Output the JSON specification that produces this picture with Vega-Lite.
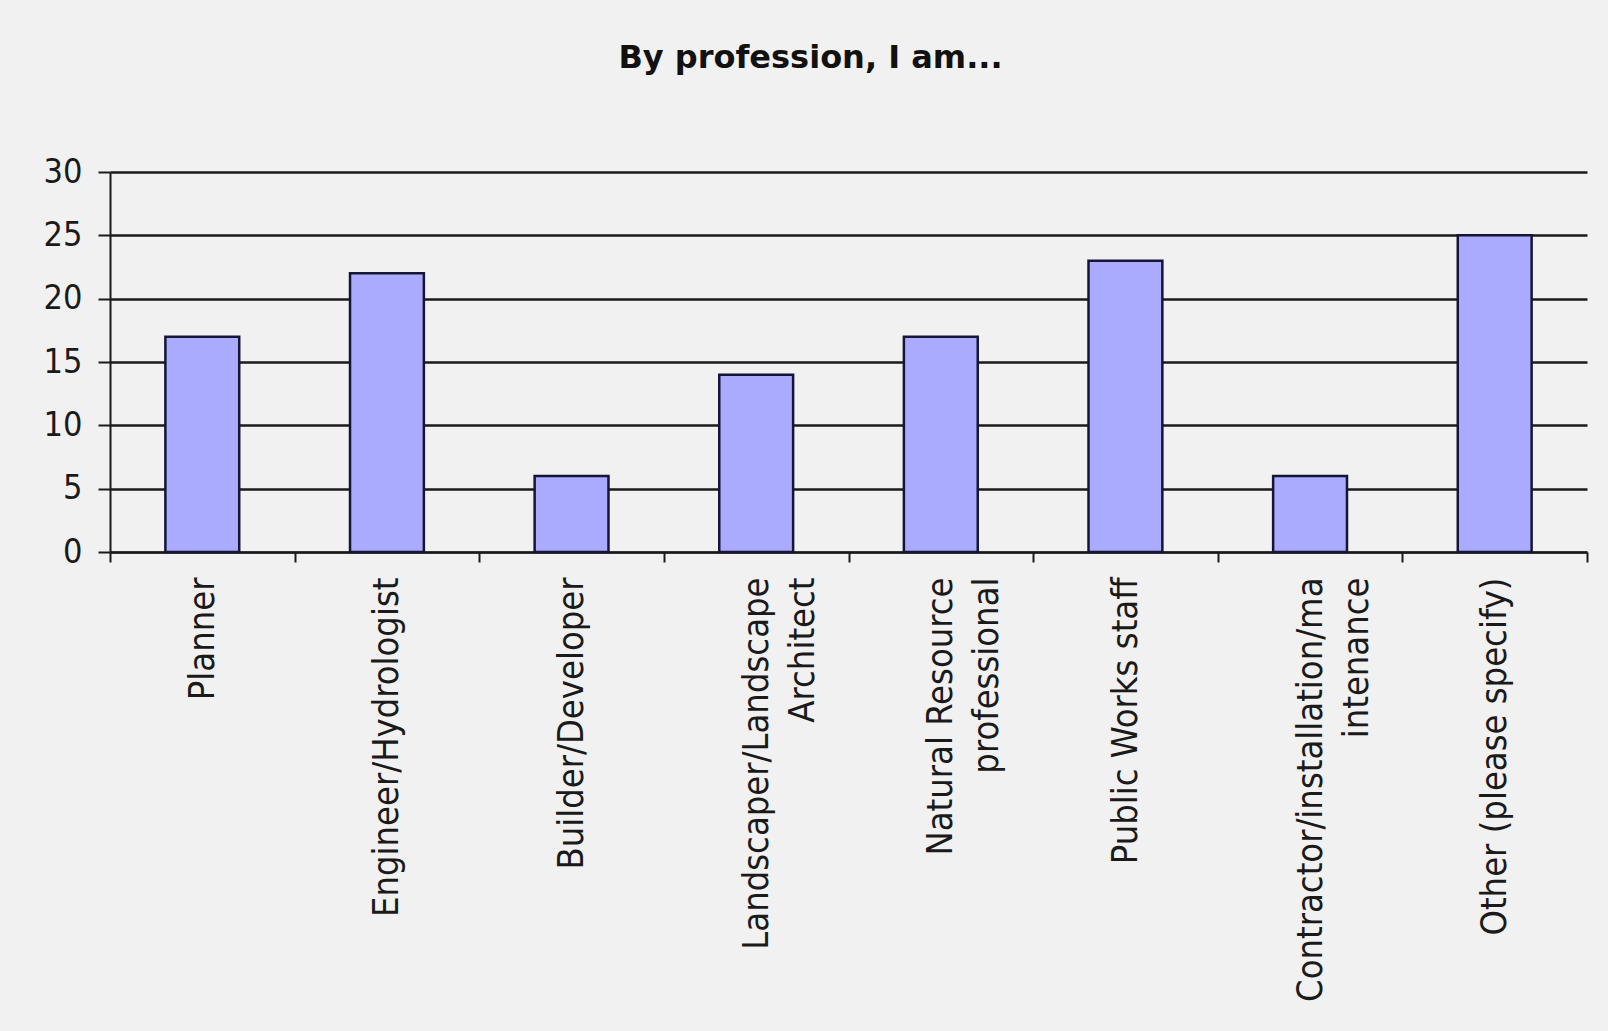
{
  "$schema": "https://vega.github.io/schema/vega-lite/v6.json",
  "autosize": {"type": "none"},
  "width": 1477,
  "height": 380,
  "padding": {"left": 110, "top": 172, "right": 21, "bottom": 479},
  "background": "#f1f1f1",
  "title": {
    "text": "By profession, I am...",
    "font": "DejaVu Sans",
    "fontWeight": "bold",
    "fontSize": 32,
    "color": "#111111",
    "anchor": "middle",
    "frame": "group",
    "dx": -38,
    "offset": 80
  },
  "data": {
    "values": [
      {"profession": "Planner", "count": 17},
      {"profession": "Engineer/Hydrologist", "count": 22},
      {"profession": "Builder/Developer", "count": 6},
      {"profession": "Landscaper/Landscape\nArchitect", "count": 14},
      {"profession": "Natural Resource\nprofessional", "count": 17},
      {"profession": "Public Works staff", "count": 23},
      {"profession": "Contractor/installation/ma\nintenance", "count": 6},
      {"profession": "Other (please specify)", "count": 25}
    ]
  },
  "mark": {"type": "bar", "fill": "#aaaaff", "stroke": "#151535", "strokeWidth": 2.5, "width": {"band": 0.4}},
  "encoding": {
    "x": {
      "field": "profession",
      "type": "nominal",
      "sort": null,
      "scale": {"paddingInner": 0, "paddingOuter": 0},
      "axis": {
        "title": null,
        "labelAngle": -90,
        "labelAlign": "right",
        "labelBaseline": "middle",
        "labelExpr": "split(datum.label, '\\n')",
        "labelFont": "DejaVu Sans Condensed",
        "labelFontSize": 36,
        "labelLineHeight": 46,
        "labelColor": "#1a1a1a",
        "labelPadding": 15,
        "labelLimit": 0,
        "labelOverlap": false,
        "tickBand": "extent",
        "tickSize": 10,
        "tickWidth": 2,
        "tickColor": "#1a1a1a",
        "domainColor": "#1a1a1a",
        "domainWidth": 2,
        "grid": false
      }
    },
    "y": {
      "field": "count",
      "type": "quantitative",
      "scale": {"domain": [0, 30], "nice": false},
      "axis": {
        "title": null,
        "values": [0, 5, 10, 15, 20, 25, 30],
        "labelFont": "DejaVu Sans Condensed",
        "labelFontSize": 34,
        "labelColor": "#1a1a1a",
        "labelPadding": 16,
        "tickSize": 12,
        "tickWidth": 2,
        "tickColor": "#1a1a1a",
        "domainColor": "#1a1a1a",
        "domainWidth": 2,
        "grid": true,
        "gridColor": "#1a1a1a",
        "gridWidth": 2.5,
        "gridOpacity": 1
      }
    }
  },
  "config": {"view": {"stroke": null}}
}
